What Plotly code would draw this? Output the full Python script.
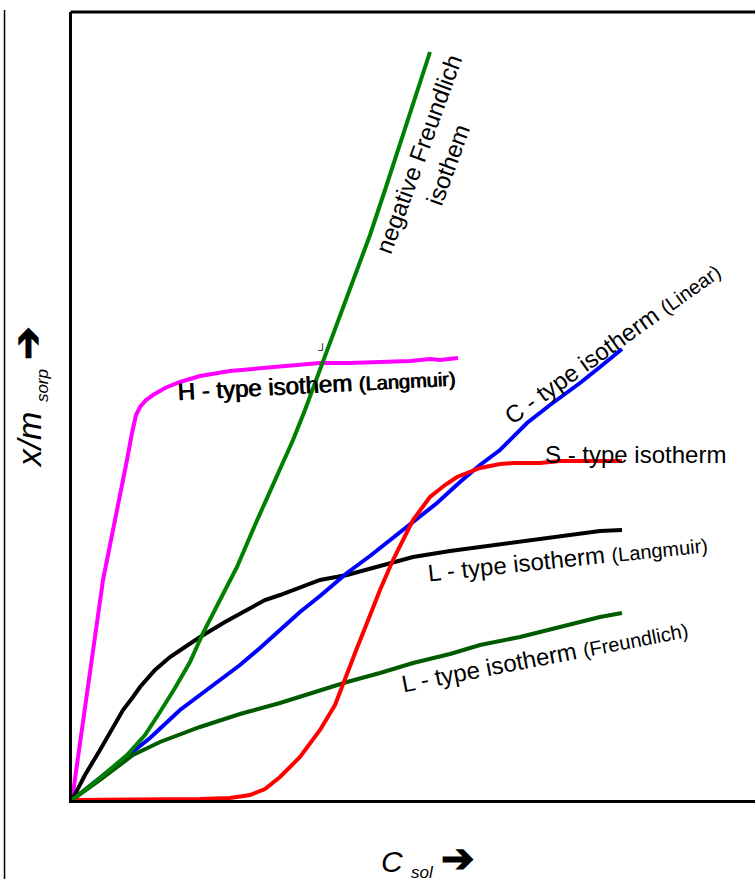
import plotly.graph_objects as go

# Sorption isotherm shapes (arbitrary units: C_sol along x, x/m_sorp along y)
h_x = [0, 8, 13, 21, 31, 40, 48, 55, 60, 64, 68, 74, 81, 93, 108, 128, 158, 188, 218, 248, 278, 308, 338, 358, 368, 386]
h_y = [0, 55, 90, 150, 220, 265, 303, 340, 367, 385, 393, 400, 405, 412, 418, 424, 429, 432, 434, 437, 437, 438, 439, 441, 440, 442]

negf_x = [0, 28, 55, 73, 88, 103, 118, 131, 148, 165, 183, 208, 221, 233, 246, 258, 273, 288, 298, 313, 328, 343, 358]
negf_y = [0, 22, 45, 65, 88, 112, 138, 167, 200, 233, 275, 332, 360, 390, 425, 455, 495, 538, 565, 610, 657, 702, 748]

c_x = [0, 28, 55, 78, 108, 138, 168, 188, 208, 228, 248, 275, 298, 318, 335, 365, 388, 408, 428, 455, 478, 508, 528, 550]
c_y = [0, 22, 43, 62, 90, 112, 135, 152, 170, 188, 204, 227, 244, 260, 273, 297, 318, 335, 350, 377, 395, 417, 433, 451]

lang_x = [0, 13, 28, 41, 51, 61, 68, 83, 98, 113, 128, 153, 178, 193, 208, 228, 248, 275, 308, 341, 378, 408, 448, 475, 508, 528, 550]
lang_y = [0, 25, 50, 73, 90, 103, 113, 130, 143, 153, 163, 178, 192, 200, 205, 213, 220, 225, 234, 243, 249, 253, 259, 262, 266, 269, 270]

freu_x = [0, 28, 61, 88, 128, 168, 208, 248, 275, 308, 341, 378, 408, 448, 475, 508, 528, 550]
freu_y = [0, 20, 45, 58, 73, 86, 97, 110, 118, 127, 137, 146, 155, 163, 170, 178, 183, 187]

s_x = [0, 48, 98, 128, 158, 178, 193, 208, 228, 248, 263, 275, 285, 295, 308, 321, 333, 341, 358, 373, 385, 408, 428, 441, 468, 488, 508, 528, 550]
s_y = [0, 0, 0, 1, 2, 5, 11, 23, 43, 70, 95, 127, 152, 177, 210, 240, 265, 280, 303, 315, 323, 332, 336, 337, 337, 339, 339, 339, 339]

X_RANGE = [0, 683]
Y_RANGE = [0, 788]

FONT = "Liberation Sans, Arial, sans-serif"

series = [
    (h_x, h_y, "#FF00FF"),
    (lang_x, lang_y, "#000000"),
    (c_x, c_y, "#0000FF"),
    (freu_x, freu_y, "#005A00"),
    (s_x, s_y, "#FF0000"),
    (negf_x, negf_y, "#008000"),
]

fig = go.Figure()
for xs, ys, col in series:
    fig.add_trace(go.Scatter(x=xs, y=ys, mode="lines",
                             line=dict(color=col, width=4),
                             hoverinfo="skip", showlegend=False))

def small(t, size=20):
    return f'<span style="font-size:{size}px">{t}</span>'

labels = [
    dict(x=361, y=640, text="negative Freundlich<br>isothem", textangle=-70),
    dict(x=244, y=416, text="H - type isothem " + small("(Langmuir)"), textangle=-3,
         shadow="1px 0px 0px black"),
    dict(x=540, y=457, text="C - type isotherm " + small("(Linear)"), textangle=-35.5),
    dict(x=563, y=346, text="S - type isotherm", textangle=0),
    dict(x=495, y=242, text="L - type isotherm " + small("(Langmuir)"), textangle=-6),
    dict(x=472, y=144, text="L - type isotherm " + small("(Freundlich)"), textangle=-11),
    dict(x=250, y=450, text="┘", textangle=0, size=12),
]

annotations = []
for lb in labels:
    font = dict(family=FONT, size=lb.get("size", 24), color="black")
    if "shadow" in lb:
        font["shadow"] = lb["shadow"]
    annotations.append(dict(
        x=lb["x"], y=lb["y"], xref="x", yref="y", text=lb["text"],
        textangle=lb["textangle"], showarrow=False, xanchor="center", yanchor="middle",
        align="center", font=font))

ARROW = '<span style="font-size:40px"><b>➔</b></span>'

# Axis titles
annotations.append(dict(
    x=-0.0644, y=0.511, xref="paper", yref="paper", textangle=-90, showarrow=False,
    text='<i>x/m</i> <sub><i><span style="font-size:17px">sorp</span></i></sub> ' + ARROW,
    xanchor="center", yanchor="middle", font=dict(family=FONT, size=34, color="black")))
annotations.append(dict(
    x=0.521, y=-0.075, xref="paper", yref="paper", showarrow=False,
    text='<i>C</i> <sub><i><span style="font-size:17px">sol</span></i></sub> ' + ARROW,
    xanchor="center", yanchor="middle", font=dict(family=FONT, size=30, color="black")))

shapes = [
    # top frame edge
    dict(type="line", xref="paper", yref="paper", x0=-0.002, x1=1.05, y0=1, y1=1,
         line=dict(color="black", width=3)),
    # thin rule at the far left
    dict(type="line", xref="paper", yref="paper", x0=-0.0988, x1=-0.0988, y0=1.0025, y1=-0.11,
         line=dict(color="black", width=1.5)),
]

fig.update_layout(
    width=755, height=879,
    margin=dict(l=72, r=0, t=12, b=79),
    paper_bgcolor="white", plot_bgcolor="white",
    xaxis=dict(range=X_RANGE, showgrid=False, zeroline=False, showticklabels=False,
               ticks="", showline=True, linecolor="black", linewidth=3),
    yaxis=dict(range=Y_RANGE, showgrid=False, zeroline=False, showticklabels=False,
               ticks="", showline=True, linecolor="black", linewidth=3),
    annotations=annotations, shapes=shapes, showlegend=False,
)

fig.write_html("out.html")
